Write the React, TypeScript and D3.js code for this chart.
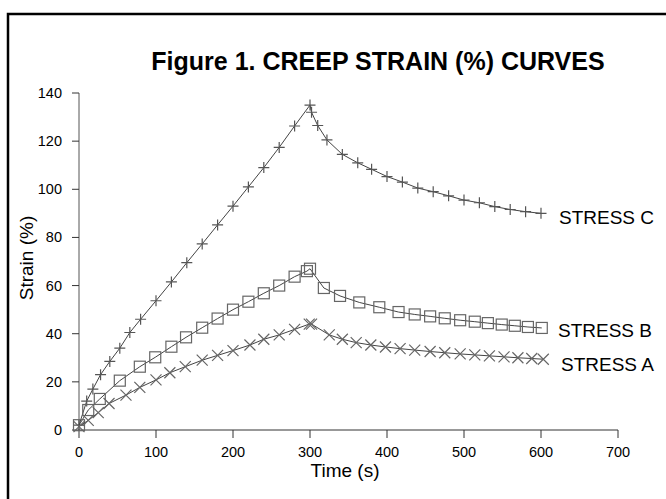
import React from 'react';
import * as d3 from 'd3';

// [time (s), strain (%)]
const stressC: [number, number][] = [
  [0, 2], [10, 12], [18, 17], [28, 23], [40, 28.5], [53, 34], [66, 40.5], [80, 46],
  [100, 53.7], [120, 61.5], [140, 69.5], [160, 77.3], [180, 85.2], [200, 93],
  [220, 101], [240, 109], [260, 117.4], [280, 126.3], [300, 135],
  [302, 132], [310, 126.5], [322, 120.5], [342, 114.5], [362, 111], [380, 108.3],
  [400, 105.3], [420, 103], [440, 100.5], [460, 99], [480, 97.3], [500, 95.5],
  [520, 94.4], [540, 92.8], [560, 91.6], [580, 90.7], [600, 90],
];

const stressB: [number, number][] = [
  [0, 2], [12, 8.3], [27, 12.9], [53, 20.5], [79, 26.3], [99, 30.2], [120, 34.6],
  [139, 38.5], [160, 42.5], [180, 46.3], [200, 50], [220, 53.3], [240, 56.8],
  [260, 60], [280, 63.7], [296, 66], [300, 67],
  [318, 59], [339, 55.7], [364, 53], [390, 51], [415, 49], [436, 48], [456, 47.2],
  [475, 46.4], [495, 45.6], [514, 45], [531, 44.4], [549, 43.8], [566, 43.3],
  [583, 42.8], [601, 42.4],
];

const stressA: [number, number][] = [
  [0, 1.4], [12, 4], [25, 7.2], [39, 11], [61, 14.5], [79, 17.7], [100, 20.8],
  [118, 23.8], [138, 26.3], [160, 29], [180, 31], [200, 33], [222, 35.3],
  [240, 37.7], [260, 39.5], [280, 41.8], [299, 44],
  [302, 44], [325, 39.5], [342, 37.7], [360, 36.3], [379, 35.3], [398, 34.5],
  [417, 33.8], [436, 33.2], [456, 32.6], [475, 32.1], [495, 31.6], [514, 31.2],
  [533, 30.8], [552, 30.4], [570, 30], [588, 29.7], [603, 29.4],
];

const xTicks = [0, 100, 200, 300, 400, 500, 600, 700];
const yTicks = [0, 20, 40, 60, 80, 100, 120, 140];

const font = 'Arial, "Liberation Sans", sans-serif';

function Marker({ kind, x, y }: { kind: string; x: number; y: number }) {
  const s = 5.5;
  if (kind === 'plus') {
    return (
      <path d={`M${x - s},${y}H${x + s}M${x},${y - s}V${y + s}`} stroke="#555" strokeWidth={1.2} fill="none" />
    );
  }
  if (kind === 'square') {
    return <rect x={x - 5.5} y={y - 5.5} width={11} height={11} stroke="#666" strokeWidth={1.2} fill="none" />;
  }
  return (
    <path d={`M${x - s},${y - s}L${x + s},${y + s}M${x - s},${y + s}L${x + s},${y - s}`} stroke="#666" strokeWidth={1.2} fill="none" />
  );
}

export default function App() {
  const x = d3.scaleLinear().domain([0, 700]).range([79, 618]);
  const y = d3.scaleLinear().domain([0, 140]).range([430, 93]);
  const line = d3.line<[number, number]>().x(d => x(d[0])).y(d => y(d[1]));

  const series = [
    { name: 'STRESS C', data: stressC, kind: 'plus', lx: 559, ly: 224 },
    { name: 'STRESS B', data: stressB, kind: 'square', lx: 558, ly: 337 },
    { name: 'STRESS A', data: stressA, kind: 'x', lx: 561, ly: 371 },
  ];

  return (
    <svg width={666} height={499} style={{ position: 'absolute', left: 0, top: 0, background: '#fff' }} fontFamily={font}>
      <rect x={8} y={14} width={700} height={520} fill="none" stroke="#000" strokeWidth={2.5} />
      <text x={378} y={70} textAnchor="middle" fontSize={25} fontWeight="bold">Figure 1. CREEP STRAIN (%) CURVES</text>

      {/* axes */}
      <line x1={79} x2={79} y1={93} y2={430} stroke="#555" />
      <line x1={79} x2={618} y1={430} y2={430} stroke="#333" />
      {yTicks.map(t => (
        <g key={`y${t}`}>
          <line x1={72} x2={79} y1={y(t)} y2={y(t)} stroke="#333" />
          <text x={62} y={y(t) + 5} textAnchor="end" fontSize={14.5}>{t}</text>
        </g>
      ))}
      {xTicks.map(t => (
        <g key={`x${t}`}>
          <line x1={x(t)} x2={x(t)} y1={430} y2={438} stroke="#333" />
          <text x={x(t)} y={457} textAnchor="middle" fontSize={14.5}>{t}</text>
        </g>
      ))}
      <text x={345} y={477} textAnchor="middle" fontSize={19}>Time (s)</text>
      <text transform="translate(33,258) rotate(-90)" textAnchor="middle" fontSize={19}>Strain (%)</text>

      {series.map(s => (
        <g key={s.name}>
          <path d={line(s.data) || ''} fill="none" stroke="#444" strokeWidth={1} />
          {s.data.map((d, i) => (
            <Marker key={i} kind={s.kind} x={x(d[0])} y={y(d[1])} />
          ))}
          <text x={s.lx} y={s.ly} fontSize={19}>{s.name}</text>
        </g>
      ))}
    </svg>
  );
}
